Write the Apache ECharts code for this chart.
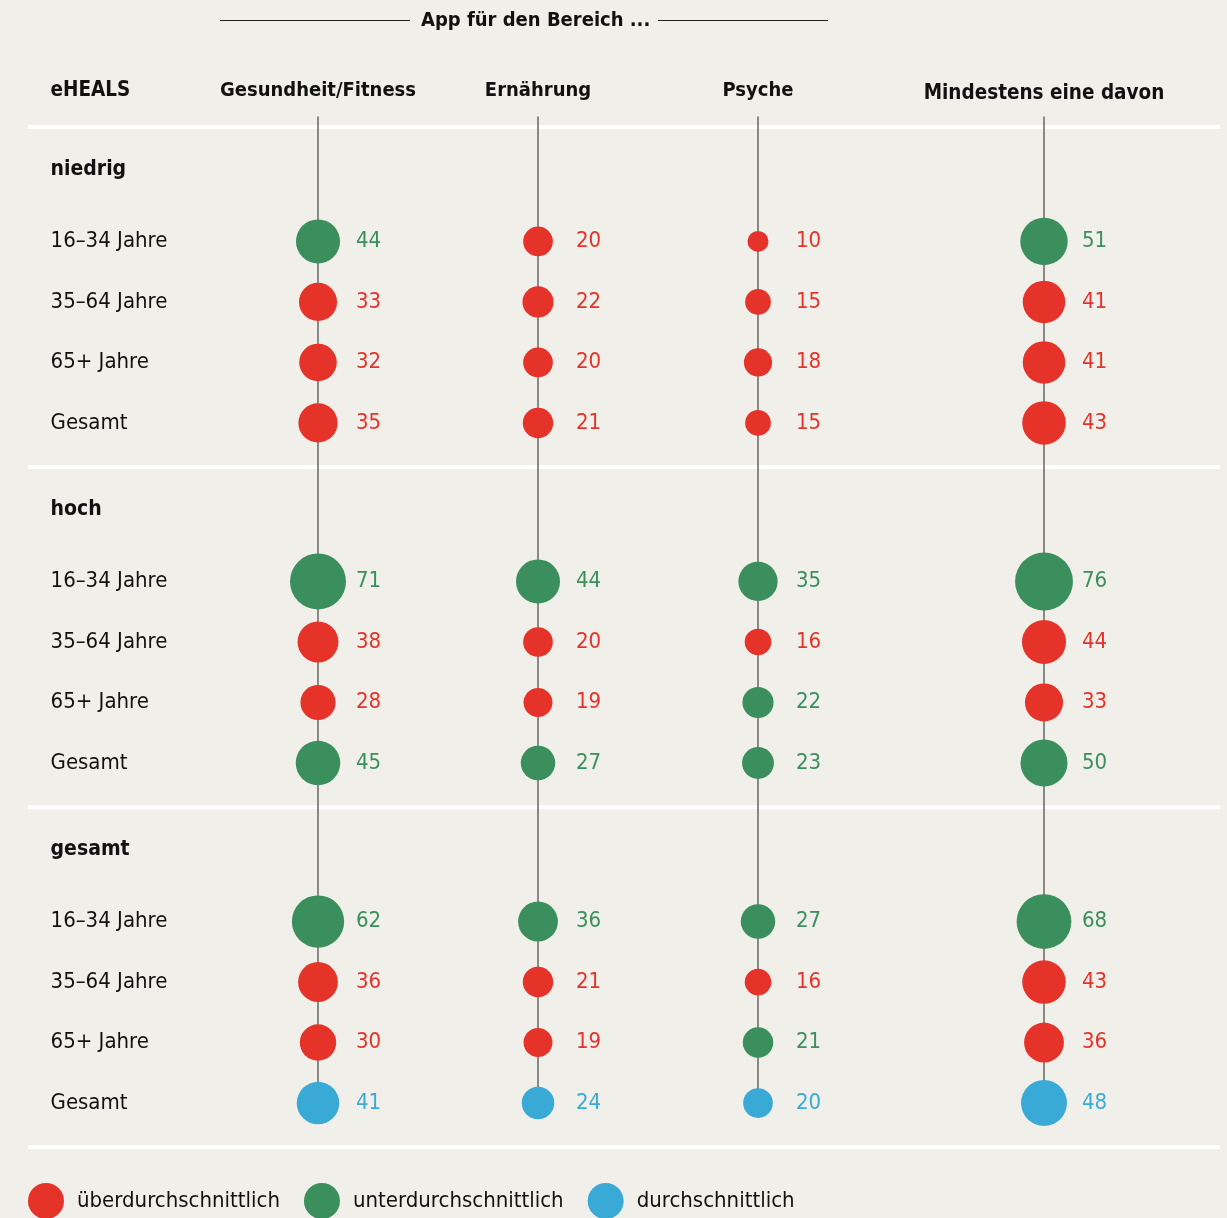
<!DOCTYPE html>
<html>
<head>
<meta charset="utf-8">
<script src="https://cdn.jsdelivr.net/npm/echarts@6/dist/echarts.min.js"></script>
<style>
  html, body { margin: 0; padding: 0; background: #f0efea; }
  #chart { width: 1227px; height: 1218px; }
</style>
</head>
<body>
<div id="chart"></div>
<script>
// Spalten, Gruppen, Zeilen
const columns = ['Gesundheit/Fitness', 'Ernährung', 'Psyche', 'Mindestens eine davon']
const groups = ['niedrig', 'hoch', 'gesamt']
const ageRows = ['16–34 Jahre', '35–64 Jahre', '65+ Jahre', 'Gesamt']

// Werte in % (Zeile = Altersgruppe, Spalte = App-Bereich)
const niedrigValues = [[44, 20, 10, 51], [33, 22, 15, 41], [32, 20, 18, 41], [35, 21, 15, 43]]
const hochValues = [[71, 44, 35, 76], [38, 20, 16, 44], [28, 19, 22, 33], [45, 27, 23, 50]]
const gesamtValues = [[62, 36, 27, 68], [36, 21, 16, 43], [30, 19, 21, 36], [41, 24, 20, 48]]

// Einstufung: ueber / unter / durch
const niedrigClass = [['unter', 'ueber', 'ueber', 'unter'], ['ueber', 'ueber', 'ueber', 'ueber'], ['ueber', 'ueber', 'ueber', 'ueber'], ['ueber', 'ueber', 'ueber', 'ueber']]
const hochClass = [['unter', 'unter', 'unter', 'unter'], ['ueber', 'ueber', 'ueber', 'ueber'], ['ueber', 'ueber', 'unter', 'ueber'], ['unter', 'unter', 'unter', 'unter']]
const gesamtClass = [['unter', 'unter', 'unter', 'unter'], ['ueber', 'ueber', 'ueber', 'ueber'], ['ueber', 'ueber', 'unter', 'ueber'], ['durch', 'durch', 'durch', 'durch']]

const legendNames = { ueber: 'überdurchschnittlich', unter: 'unterdurchschnittlich', durch: 'durchschnittlich' }
const colors = { ueber: '#e6332a', unter: '#3a8f5c', durch: '#39aad6' }

const groupValues = [niedrigValues, hochValues, gesamtValues]
const groupClass = [niedrigClass, hochClass, gesamtClass]

// Layout in Achsen-Einheiten (x: Spalte, y: Zeile)
const COL_POS = [0, 1, 2, 3.3]
const LABEL_X = -1.218
const GROUP_STEP = 5.62
const HEAD_TO_ROW = 1.19
const FONT = '"Liberation Sans Narrow", "DejaVu Sans Condensed", "Noto Sans", sans-serif'
const INK = '#111111'

const rowY = (g, r) => g * GROUP_STEP + HEAD_TO_ROW + r
const bubbleSize = (v) => 6.64 * Math.sqrt(v)

const bubbles = { ueber: [], unter: [], durch: [] }
groupValues.forEach((vals, g) => {
  vals.forEach((row, r) => {
    row.forEach((v, c) => {
      const cls = groupClass[g][r][c]
      const s = bubbleSize(v)
      bubbles[cls].push({
        value: [COL_POS[c], rowY(g, r), v],
        symbolSize: s,
        label: { distance: 38 - s / 2 }
      })
    })
  })
})

const rowLabels = []
const groupLabels = []
groups.forEach((name, g) => {
  groupLabels.push({ value: [LABEL_X, g * GROUP_STEP], name })
  ageRows.forEach((a, r) => rowLabels.push({ value: [LABEL_X, rowY(g, r)], name: a }))
})
const headerLabels = columns.map((name, c) => ({
  value: [COL_POS[c], c === 3 ? -1.256 : -1.306],
  name,
  label: c === 3 ? { fontWeight: 'bold', fontSize: 20.5 } : {}
}))

const lastY = rowY(groups.length - 1, ageRows.length - 1)

const textSeries = (name, data, label) => ({
  name,
  type: 'scatter',
  silent: true,
  symbolSize: 1,
  itemStyle: { color: 'rgba(0,0,0,0)', opacity: 1 },
  data,
  label: Object.assign({
    show: true, formatter: '{b}', color: INK, opacity: 1,
    textBorderWidth: 0, fontFamily: FONT, fontSize: 22
  }, label),
  z: 5
})

const series = []
// Trennlinien
for (let g = 0; g <= groups.length; g++) {
  const y = g * GROUP_STEP - 0.7
  series.push({
    type: 'line', silent: true, symbol: 'none',
    data: [[-1.318, y], [4.1, y]],
    lineStyle: { color: '#ffffff', width: 4 }, z: 1
  })
}
// Senkrechte Linien
COL_POS.forEach((x) => {
  series.push({
    type: 'line', silent: true, symbol: 'none',
    data: [[x, -0.876], [x, lastY]],
    lineStyle: { color: '#6f6f6f', width: 1.6 }, z: 2
  })
})
// Blasen
Object.keys(bubbles).forEach((cls) => {
  series.push({
    name: legendNames[cls],
    type: 'scatter',
    data: bubbles[cls],
    itemStyle: { color: colors[cls], opacity: 1 },
    label: {
      show: true,
      position: 'right',
      formatter: (p) => p.value[2],
      color: colors[cls],
      fontFamily: FONT,
      fontSize: 22
    },
    z: 3
  })
})
series.push(textSeries('rows', rowLabels, { position: 'right', distance: 0 }))
series.push(textSeries('groups', groupLabels, { position: 'right', distance: 0, fontWeight: 'bold', fontSize: 21 }))
series.push(textSeries('eheals', [{ value: [LABEL_X, -1.306], name: 'eHEALS' }], { position: 'right', distance: 0, fontWeight: 600, fontSize: 20.5 }))
series.push(textSeries('headers', headerLabels, { position: 'inside', align: 'center', fontWeight: 600, fontSize: 20 }))

const chart = echarts.init(document.getElementById('chart'))
chart.setOption({
  backgroundColor: '#f0efea',
  animation: false,
  title: {
    text: 'App für den Bereich ...',
    left: 421,
    top: 11,
    padding: 0,
    textStyle: { fontFamily: FONT, fontSize: 20, fontWeight: 'bold', color: INK }
  },
  graphic: [
    { type: 'line', shape: { x1: 220, y1: 20.5, x2: 410, y2: 20.5 }, style: { stroke: '#222', lineWidth: 1 } },
    { type: 'line', shape: { x1: 658, y1: 20.5, x2: 828, y2: 20.5 }, style: { stroke: '#222', lineWidth: 1 } }
  ],
  legend: {
    data: Object.values(legendNames),
    left: 28,
    top: 1183,
    padding: 0,
    icon: 'circle',
    itemWidth: 36,
    itemHeight: 36,
    itemGap: 24,
    textStyle: { fontFamily: FONT, fontSize: 22, color: INK, padding: [0, 0, 0, 8] },
    selectedMode: false
  },
  grid: { left: 10, right: 7, top: 0, bottom: 0 },
  xAxis: { type: 'value', min: -1.4, max: 4.1, show: false },
  yAxis: { type: 'value', min: -2.8, max: 17.33, inverse: true, show: false },
  series
})
</script>
</body>
</html>
